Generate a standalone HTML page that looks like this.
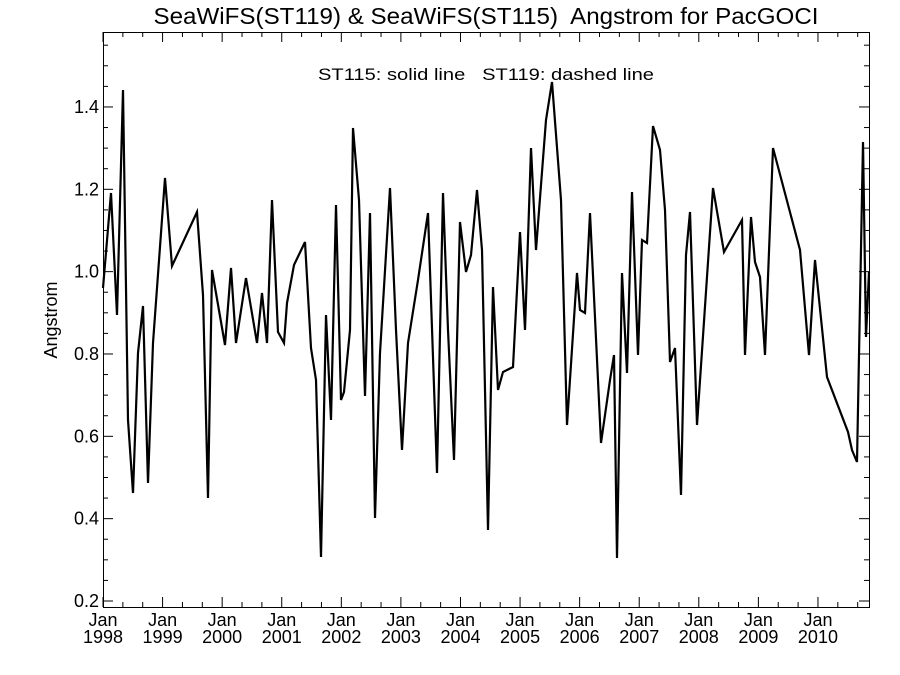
<!DOCTYPE html>
<html><head><style>body{margin:0;background:#fff}svg{display:block}text{font-family:"Liberation Sans",sans-serif;fill:#000;white-space:pre}</style></head><body>
<svg width="900" height="675" viewBox="0 0 900 675" xmlns="http://www.w3.org/2000/svg">
<rect x="103.5" y="32.5" width="766" height="575" fill="none" stroke="#000" stroke-width="1"/>
<text x="486" y="24" font-size="23.5" text-anchor="middle" textLength="665" lengthAdjust="spacingAndGlyphs">SeaWiFS(ST119) &amp; SeaWiFS(ST115)  Angstrom for PacGOCI</text>
<text x="486" y="80" font-size="17" text-anchor="middle" textLength="336" lengthAdjust="spacingAndGlyphs">ST115: solid line   ST119: dashed line</text>
<text transform="translate(57,320) rotate(-90)" font-size="18" text-anchor="middle">Angstrom</text>
<g id="yt" stroke="#000" stroke-width="1"></g>
<g id="xt" stroke="#000" stroke-width="1"></g>
<g id="lab" font-size="18"></g>
<polyline fill="none" stroke="#000" stroke-width="2.2" stroke-linejoin="miter" points="103,288 111,193 117,315 123,90 128,420 133,493 138,353 143,306 148,483 153,343 165,178 172,266 197,212 203,295 208,498 212,270 225,345 231,268 236,343 246,278 257,343 262,293 267,343 272,200 278,332 284,343 287,303 294,265 305,242 311,348 316,380 321,557 326,315 331,420 336,205 341,400 344,392 350,330 353,128 359,200 365,396 370,213 375,518 380,353 390,188 396,330 402,450 408,343 418,280 428,213 437,473 443,193 448,330 454,460 460,222 466,272 471,255 477,190 482,250 488,530 493,287 498,390 503,372 513,367 520,232 525,330 531,148 536,250 546,120 552,82 561,200 567,425 577,273 580,310 585,313 590,213 601,443 610,380 614,355 617,558 622,273 627,373 632,192 638,355 642,240 647,243 653,126 660,150 665,210 670,362 675,348 681,495 686,255 690,212 697,425 713,188 724,252 742,220 745,355 751,217 755,262 760,277 765,355 773,148 800,250 809,355 815,260 827,377 848,432 852,450 857,462 863,142 866,337 869,272"/>
</svg>
<script>
var ns="http://www.w3.org/2000/svg",yt=document.getElementById("yt"),xt=document.getElementById("xt"),lab=document.getElementById("lab");
function ln(g,x1,y1,x2,y2){var l=document.createElementNS(ns,"line");l.setAttribute("x1",x1);l.setAttribute("y1",y1);l.setAttribute("x2",x2);l.setAttribute("y2",y2);g.appendChild(l);}
function tx(x,y,s,a){var t=document.createElementNS(ns,"text");t.setAttribute("x",x);t.setAttribute("y",y);t.setAttribute("text-anchor",a);t.textContent=s;lab.appendChild(t);}
for(var i=0;i<=27;i++){var v=0.2+i*0.05;var y=601-(v-0.2)*411.7;if(y<33)break;var L=(i%4==0)?10:5;ln(yt,103,y,103+L,y);ln(yt,869,y,869-L,y);if(i%4==0)tx(99,y+6,v.toFixed(1),"end");}
for(var m=0;m<=155;m+=4){var x=103+m*59.58/12;if(x>869)break;var L=(m%12==0)?10:5;ln(xt,x,607,x,607-L);ln(xt,x,32,x,32+L);if(m%12==0){tx(x,626,"Jan","middle");tx(x,643,String(1998+m/12),"middle");}}
</script>
</body></html>
